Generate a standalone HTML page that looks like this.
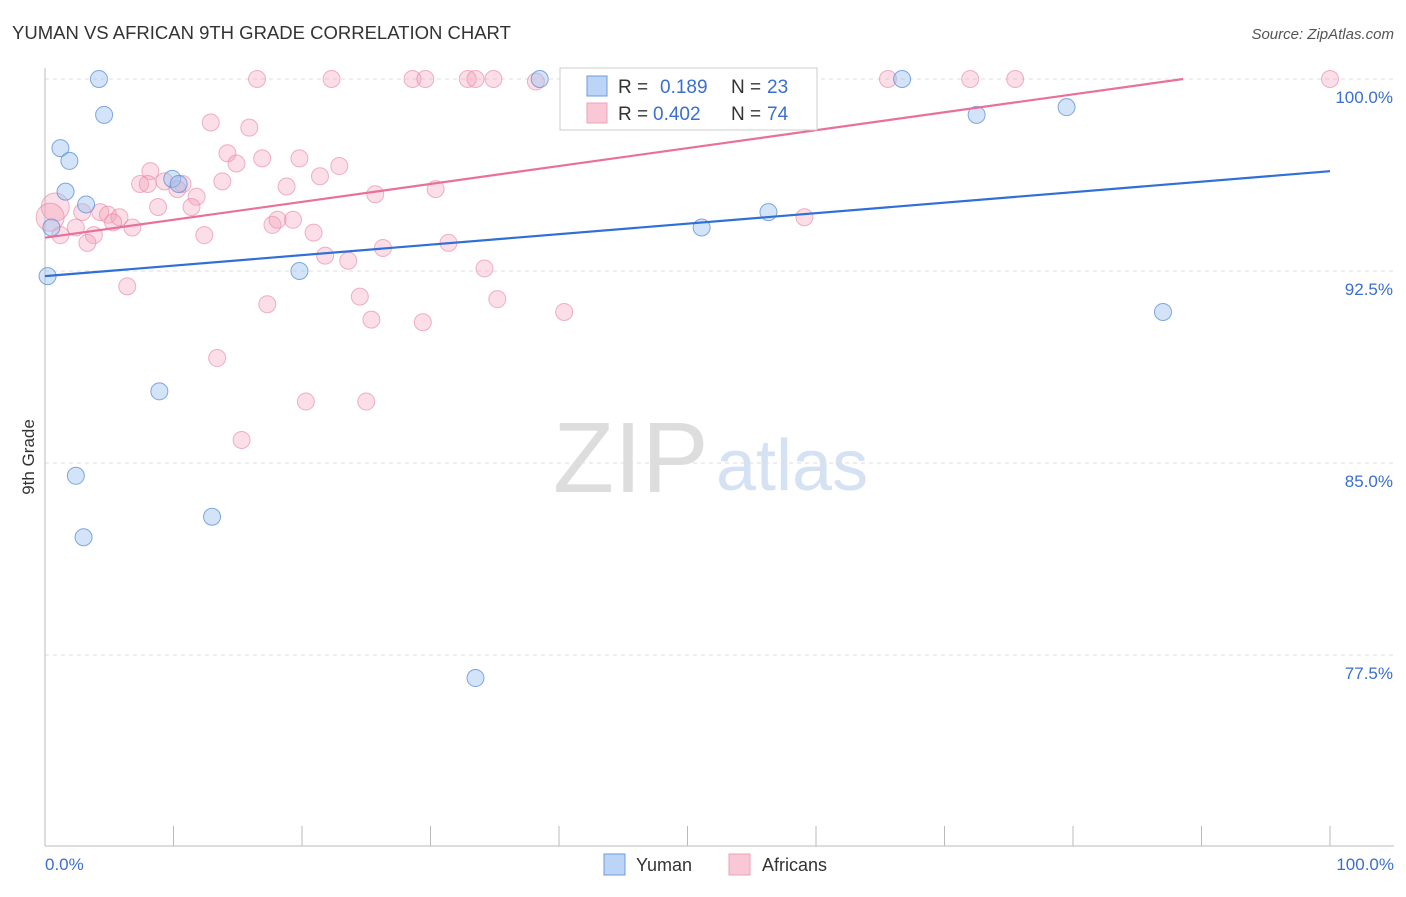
<!DOCTYPE html>
<html><head><meta charset="utf-8"><style>
body{margin:0;background:#fff;font-family:"Liberation Sans",sans-serif}
svg text{font-family:"Liberation Sans",sans-serif}
</style></head><body>
<svg id="chart" width="1406" height="892">
<text x="12" y="39" font-size="18.5" fill="#333">YUMAN VS AFRICAN 9TH GRADE CORRELATION CHART</text>
<text x="1394" y="39" font-size="15" fill="#555" text-anchor="end" font-style="italic">Source: ZipAtlas.com</text>
<text x="0" y="0" transform="translate(34,457) rotate(-90)" font-size="17" fill="#333" text-anchor="middle">9th Grade</text>
<g>
<text x="553" y="492" font-size="100" fill="#ddd" font-family="Liberation Serif,serif">ZIP</text>
<text x="716" y="490" font-size="72" fill="#d5e2f4">atlas</text>
</g>
<g id="grid"></g><g id="axes"></g><g id="marks"></g>
<g>
<rect x="560" y="68" width="257" height="62" fill="#fff" stroke="#ccc"/>
<rect x="587" y="76" width="20" height="20" fill="#bcd4f5" stroke="#6d9be0"/>
<text x="618" y="93" font-size="19" fill="#333">R = </text><text x="660" y="93" font-size="19" fill="#3a6fd0">0.189</text>
<text x="731" y="93" font-size="19" fill="#333">N = </text><text x="767" y="93" font-size="19" fill="#3a6fd0">23</text>
<rect x="587" y="103" width="20" height="20" fill="#f9c7d5" stroke="#eba3b8"/>
<text x="618" y="120" font-size="19" fill="#333">R = </text><text x="653" y="120" font-size="19" fill="#3a6fd0">0.402</text>
<text x="731" y="120" font-size="19" fill="#333">N = </text><text x="767" y="120" font-size="19" fill="#3a6fd0">74</text>
</g>
<g>
<rect x="604" y="854" width="21" height="21" fill="#bcd4f5" stroke="#6d9be0"/>
<text x="636" y="871" font-size="18" fill="#333">Yuman</text>
<rect x="729" y="854" width="21" height="21" fill="#f9c7d5" stroke="#eba3b8"/>
<text x="762" y="871" font-size="18" fill="#333">Africans</text>
</g>
</svg>
<script>
const yTicks=[100,92.5,85,77.5];
const yTickLabels=["100.0%","92.5%","85.0%","77.5%"];
const xTickLabels=["0.0%","100.0%"];
const yumanX=[4.2,4.6,1.2,1.9,1.6,3.2,0.5,0.2,9.9,10.4,19.8,8.9,2.4,3.0,13.0,33.5,38.5,51.1,56.3,66.7,72.5,79.5,87.0];
const yumanY=[100,98.6,97.3,96.8,95.6,95.1,94.2,92.3,96.1,95.9,92.5,87.8,84.5,82.1,82.9,76.6,100,94.2,94.8,100,98.6,98.9,90.9];
const afrX=[16.5,22.3,28.6,29.6,32.9,33.5,34.9,38.2,42.8,52.3,65.6,72.0,75.5,100,41.9,55.6,12.9,15.9,14.2,16.9,14.9,19.8,22.9,8.2,21.4,7.4,8.0,9.3,10.7,13.8,10.3,11.8,18.8,25.7,30.4,8.8,11.4,0.8,0.4,2.9,4.3,4.9,5.8,5.3,6.8,2.4,1.2,3.8,3.3,12.4,17.7,18.1,19.3,20.9,31.4,26.3,21.8,23.6,34.2,24.5,17.3,35.2,6.4,25.4,29.4,40.4,13.4,20.3,25.0,15.3,59.1];
const afrY=[100,100,100,100,100,100,100,99.9,100,100,100,100,100,100,99.2,99.1,98.3,98.1,97.1,96.9,96.7,96.9,96.6,96.4,96.2,95.9,95.9,96.0,95.9,96.0,95.7,95.4,95.8,95.5,95.7,95.0,95.0,95.0,94.6,94.8,94.8,94.7,94.6,94.4,94.2,94.2,93.9,93.9,93.6,93.9,94.3,94.5,94.5,94.0,93.6,93.4,93.1,92.9,92.6,91.5,91.2,91.4,91.9,90.6,90.5,90.9,89.1,87.4,87.4,85.9,94.6];
const yumanTrend=[92.3,96.4];
const afrTrend=[93.8,100.8];
const NS="http://www.w3.org/2000/svg";
const X0=45,X1=1330,Y0=79,PPU=25.6;
const sx=v=>X0+(X1-X0)*v/100;
const sy=v=>Y0+(100-v)*PPU;
function mk(tag,attrs,parent){const e=document.createElementNS(NS,tag);for(const k in attrs)e.setAttribute(k,attrs[k]);parent.appendChild(e);return e;}
const grid=document.getElementById('grid'),axes=document.getElementById('axes'),marks=document.getElementById('marks');
yTicks.forEach((t,i)=>{
 const l=mk('line',{x1:45,x2:1394,y1:sy(t),y2:sy(t),stroke:'#ddd','stroke-dasharray':'4,4'},grid);
 
 
 const tx=mk('text',{x:1393,y:sy(t)+24,'font-size':17,fill:'#3a6fd0','text-anchor':'end'},axes);
 tx.textContent=yTickLabels[i];
 
 
});
const ax=mk('line',{x1:45,x2:1394,y1:846,y2:846,stroke:'#bbb'},axes);


const ay=mk('line',{x1:45,x2:45,y1:68,y2:846,stroke:'#bbb'},axes);


for(let i=0;i<=10;i++){
 const t=mk('line',{x1:sx(i*10),x2:sx(i*10),y1:826,y2:846,stroke:'#bbb'},axes);
 
 
}
[[0,'start',45],[100,'end',1394]].forEach((d,i)=>{
 const tx=mk('text',{x:d[2],y:870,'font-size':17,fill:'#3a6fd0','text-anchor':d[1]},axes);
 tx.textContent=xTickLabels[i];
 
 
});
afrX.forEach((x,i)=>{
 const r=(i===37||i===38)?14:8.5;
 const c=mk('circle',{cx:sx(x),cy:sy(afrY[i]),r:r,fill:'rgba(244,160,185,0.35)',stroke:'rgba(232,130,160,0.6)','stroke-width':1},marks);
 
 
});
yumanX.forEach((x,i)=>{
 const c=mk('circle',{cx:sx(x),cy:sy(yumanY[i]),r:8.5,fill:'rgba(160,195,240,0.45)',stroke:'rgba(90,140,215,0.75)','stroke-width':1},marks);
 
 
});
const bl=mk('line',{x1:sx(0),y1:sy(yumanTrend[0]),x2:sx(100),y2:sy(yumanTrend[1]),stroke:'#2f6fd6','stroke-width':2.2},marks);


const xEnd=Math.min(100,(100-afrTrend[0])/(afrTrend[1]-afrTrend[0])*100);
const pl=mk('line',{x1:sx(0),y1:sy(afrTrend[0]),x2:sx(xEnd),y2:sy(afrTrend[0]+(afrTrend[1]-afrTrend[0])*xEnd/100),stroke:'#e8709a','stroke-width':2.2},marks);


</script>
</body></html>
